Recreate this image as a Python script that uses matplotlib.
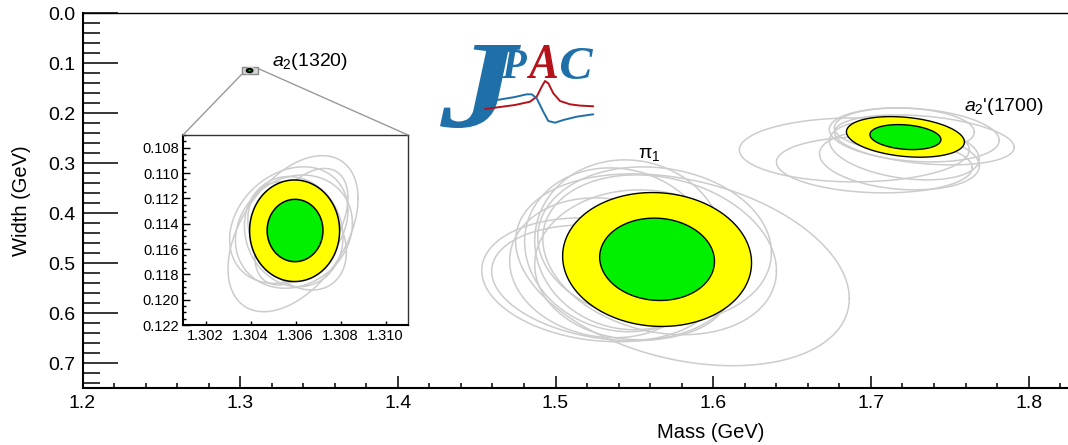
import numpy as np
import matplotlib
matplotlib.use('Agg')
import matplotlib.pyplot as plt
from matplotlib.patches import Polygon, Rectangle, ConnectionPatch, PathPatch
from matplotlib.textpath import TextPath
from matplotlib.font_manager import FontProperties
from matplotlib.transforms import Affine2D
from matplotlib.ticker import MultipleLocator, FormatStrFormatter

plt.rcParams['font.family'] = ['Liberation Sans', 'DejaVu Sans']
plt.rcParams['mathtext.fontset'] = 'custom'
plt.rcParams['mathtext.rm'] = 'Liberation Sans'
plt.rcParams['mathtext.it'] = 'Liberation Sans:italic'
plt.rcParams['mathtext.bf'] = 'Liberation Sans:bold'

# ---------------- data ----------------
res_labels = [r'$a_2$(1320)', r'π$_1$', r"$a_2$'(1700)"]
res_label_x = [1.320, 1.5596, 1.7592]
res_label_y = [0.0974, 0.2834, 0.187]

core_outer_cx = [1.30596, 1.5644, 1.7219]
core_outer_cy = [0.11456, 0.4928, 0.2474]
core_outer_sx = [0.00200, 0.0599, 0.0374]
core_outer_sy = [0.00401, 0.1340, 0.0406]
core_outer_rho = [0.0, 0.05, 0.25]

core_inner_cx = [1.30598, 1.5644, 1.7219]
core_inner_cy = [0.11454, 0.4924, 0.2478]
core_inner_sx = [0.00124, 0.0364, 0.0225]
core_inner_sy = [0.00246, 0.0824, 0.0250]
core_inner_rho = [0.0, 0.05, 0.2]

a2_gray_cx = [1.30589, 1.30570, 1.30593, 1.30592, 1.30607, 1.30626]
a2_gray_cy = [0.11479, 0.11411, 0.11463, 0.11463, 0.11496, 0.11424]
a2_gray_sx = [0.00289, 0.00263, 0.00260, 0.00219, 0.00219, 0.00207]
a2_gray_sy = [0.00616, 0.00460, 0.00447, 0.00435, 0.00428, 0.00460]
a2_gray_rho = [-0.45, -0.25, -0.15, 0.10, 0.30, -0.50]

pi1_gray_cx = [1.5280, 1.5343, 1.5311, 1.5406, 1.5470, 1.5805, 1.5660, 1.5628, 1.5533]
pi1_gray_cy = [0.5334, 0.5394, 0.5094, 0.4734, 0.4634, 0.5134, 0.4834, 0.4634, 0.5034]
pi1_gray_sx = [0.0748, 0.0748, 0.0602, 0.0602, 0.0602, 0.1058, 0.0741, 0.0741, 0.0665]
pi1_gray_sy = [0.124, 0.116, 0.140, 0.164, 0.170, 0.192, 0.160, 0.156, 0.150]
pi1_gray_rho = [0.15, 0.20, 0.10, 0.10, 0.05, 0.30, 0.20, 0.10, 0.0]

a2p_gray_cx = [1.6895, 1.7022, 1.7275, 1.7339, 1.7212, 1.7181, 1.7212]
a2p_gray_cy = [0.2734, 0.3034, 0.2434, 0.2534, 0.2734, 0.2934, 0.2334]
a2p_gray_sx = [0.0729, 0.0621, 0.0539, 0.0570, 0.0475, 0.0507, 0.0444]
a2p_gray_sy = [0.064, 0.056, 0.054, 0.050, 0.060, 0.060, 0.044]
a2p_gray_rho = [0.0, 0.1, 0.2, 0.3, 0.3, 0.2, 0.1]

zoom_xlim = [1.301, 1.311]
zoom_ylim = [0.107, 0.122]

logo_red_x = [485, 500, 515, 530, 536.7, 541.7, 545, 548.3, 553.3, 560, 570, 580, 593.3]
logo_red_y = [109, 107, 105, 101.7, 96.7, 86.7, 81, 83.3, 93.3, 101, 104.3, 105.6, 106.3]
logo_blue_x = [485, 500, 515, 526.7, 531.7, 536.7, 543.3, 548.3, 555, 563.3, 576.7, 593.3]
logo_blue_y = [101.7, 99.5, 97, 94.3, 94.3, 98.3, 111.7, 121, 122.7, 120, 116.7, 114.3]

GRAY = '#cccccc'
YELLOW = '#ffff00'
GREEN = '#00f000'


def ellipse_pts(cx, cy, sx, sy, rho, n=300):
    t = np.linspace(0, 2 * np.pi, n)
    x = cx + sx * np.cos(t)
    y = cy + sy * (rho * np.cos(t) + np.sqrt(1 - rho ** 2) * np.sin(t))
    return x, y


def draw_all(ax, lw_gray, lw_edge):
    for cxs, cys, sxs, sys_, rhos in [
        (a2_gray_cx, a2_gray_cy, a2_gray_sx, a2_gray_sy, a2_gray_rho),
        (pi1_gray_cx, pi1_gray_cy, pi1_gray_sx, pi1_gray_sy, pi1_gray_rho),
        (a2p_gray_cx, a2p_gray_cy, a2p_gray_sx, a2p_gray_sy, a2p_gray_rho),
    ]:
        for cx, cy, sx, sy, r in zip(cxs, cys, sxs, sys_, rhos):
            x, y = ellipse_pts(cx, cy, sx, sy, r)
            ax.plot(x, y, color=GRAY, lw=lw_gray, zorder=2)
    for i in range(3):
        x, y = ellipse_pts(core_outer_cx[i], core_outer_cy[i], core_outer_sx[i],
                           core_outer_sy[i], core_outer_rho[i])
        ax.add_patch(Polygon(np.column_stack([x, y]), closed=True, facecolor=YELLOW,
                             edgecolor='black', lw=lw_edge, zorder=3))
        x, y = ellipse_pts(core_inner_cx[i], core_inner_cy[i], core_inner_sx[i],
                           core_inner_sy[i], core_inner_rho[i])
        ax.add_patch(Polygon(np.column_stack([x, y]), closed=True, facecolor=GREEN,
                             edgecolor='black', lw=lw_edge, zorder=4))


W, H = 1068, 445
fig = plt.figure(figsize=(W / 100, H / 100), dpi=100)

# ---------------- main axes ----------------
ax = fig.add_axes([82.5 / W, 1 - 388 / H, 1 - 82.5 / W, (388 - 13.3) / H])
ax.set_xlim(1.2, 1.825)
ax.set_ylim(0.75, 0.0)
draw_all(ax, 1.1, 1.0)

ax.add_patch(Rectangle((zoom_xlim[0], zoom_ylim[0]), zoom_xlim[1] - zoom_xlim[0],
                       zoom_ylim[1] - zoom_ylim[0], facecolor='#d8d8d8',
                       edgecolor='#888888', lw=1.0, zorder=1))

for lab, lx, ly in zip(res_labels, res_label_x, res_label_y):
    ha = 'center' if lab.startswith('π') else 'left'
    ax.text(lx, ly, lab, fontsize=14, ha=ha, va='center', zorder=6)

ax.xaxis.set_major_locator(MultipleLocator(0.1))
ax.xaxis.set_minor_locator(MultipleLocator(0.02))
ax.yaxis.set_major_locator(MultipleLocator(0.1))
ax.yaxis.set_minor_locator(MultipleLocator(0.02))
ax.xaxis.set_major_formatter(FormatStrFormatter('%.1f'))
ax.yaxis.set_major_formatter(FormatStrFormatter('%.1f'))
ax.tick_params(axis='both', which='both', direction='in', width=1.1, labelsize=14)
ax.tick_params(axis='y', which='major', length=25, pad=5)
ax.tick_params(axis='y', which='minor', length=12)
ax.tick_params(axis='x', which='major', length=8.6, pad=5)
ax.tick_params(axis='x', which='minor', length=3.8)
ax.spines['right'].set_visible(False)
ax.spines['left'].set_linewidth(1.5)
ax.spines['bottom'].set_linewidth(1.5)
ax.spines['top'].set_linewidth(1.0)
ax.set_xlabel('Mass (GeV)', fontsize=14.5)
ax.xaxis.set_label_coords((711 - 82.5) / (W - 82.5), -(432 - 388) / (388 - 13.3))
ax.set_ylabel('Width (GeV)', fontsize=14.5)
ax.yaxis.set_label_coords(-(82.5 - 21.5) / (W - 82.5), 0.5)
ax.xaxis.label.set_va('center')
ax.yaxis.label.set_va('center')

# ---------------- inset ----------------
axin = fig.add_axes([183 / W, 1 - 325 / H, (408 - 183) / W, (325 - 135) / H])
axin.set_xlim(zoom_xlim[0], zoom_xlim[1])
axin.set_ylim(zoom_ylim[1], zoom_ylim[0])
draw_all(axin, 1.1, 1.1)
axin.xaxis.set_major_locator(MultipleLocator(0.002))
axin.yaxis.set_major_locator(MultipleLocator(0.002))
axin.yaxis.set_minor_locator(MultipleLocator(0.0005))
axin.xaxis.set_major_formatter(FormatStrFormatter('%.3f'))
axin.yaxis.set_major_formatter(FormatStrFormatter('%.3f'))
axin.tick_params(axis='both', which='both', direction='in', width=1.0, labelsize=10.5)
axin.tick_params(axis='y', which='major', length=5, pad=3)
axin.tick_params(axis='y', which='minor', length=2.5)
axin.tick_params(axis='x', which='major', length=3, pad=3)
for s in ['left', 'bottom']:
    axin.spines[s].set_linewidth(1.5)
for s in ['top', 'right']:
    axin.spines[s].set_linewidth(1.0)
    axin.spines[s].set_color('#333333')

for xyA, xyB in [((zoom_xlim[0], zoom_ylim[1]), (0, 1)), ((zoom_xlim[1], 0.110), (1, 1))]:
    con = ConnectionPatch(xyA=xyA, coordsA=ax.transData, xyB=xyB, coordsB=axin.transAxes,
                          color='#999999', lw=1.0)
    fig.add_artist(con)

# ---------------- logo ----------------
lax = fig.add_axes([0, 0, 1, 1], zorder=5)
lax.set_xlim(0, W)
lax.set_ylim(H, 0)
lax.set_axis_off()
lax.patch.set_alpha(0)
BLUE = '#1f6fa9'
RED = '#b5121b'
lax.plot(logo_red_x, logo_red_y, color=RED, lw=1.4, solid_capstyle='round')
lax.plot(logo_blue_x, logo_blue_y, color=BLUE, lw=1.4, solid_capstyle='round')

serif_bi = FontProperties(family='Liberation Serif', weight='bold', style='italic')


def glyph(ch, x0, x1, y0, y1, color):
    p = TextPath((0, 0), ch, size=100, prop=serif_bi)
    ext = p.get_extents()
    tr = (Affine2D().translate(-ext.x0, -ext.y1)
          .scale((x1 - x0) / ext.width, -(y1 - y0) / ext.height)
          .translate(x0, y0))
    lax.add_patch(PathPatch(tr.transform_path(p), facecolor=color, edgecolor='none'))


glyph('J', 440, 521, 45, 128, BLUE)
glyph('P', 502, 527, 50, 78, BLUE)
glyph('A', 527, 557, 45, 78, RED)
glyph('C', 561, 593, 48, 79, BLUE)

fig.savefig('out.png', dpi=100)
